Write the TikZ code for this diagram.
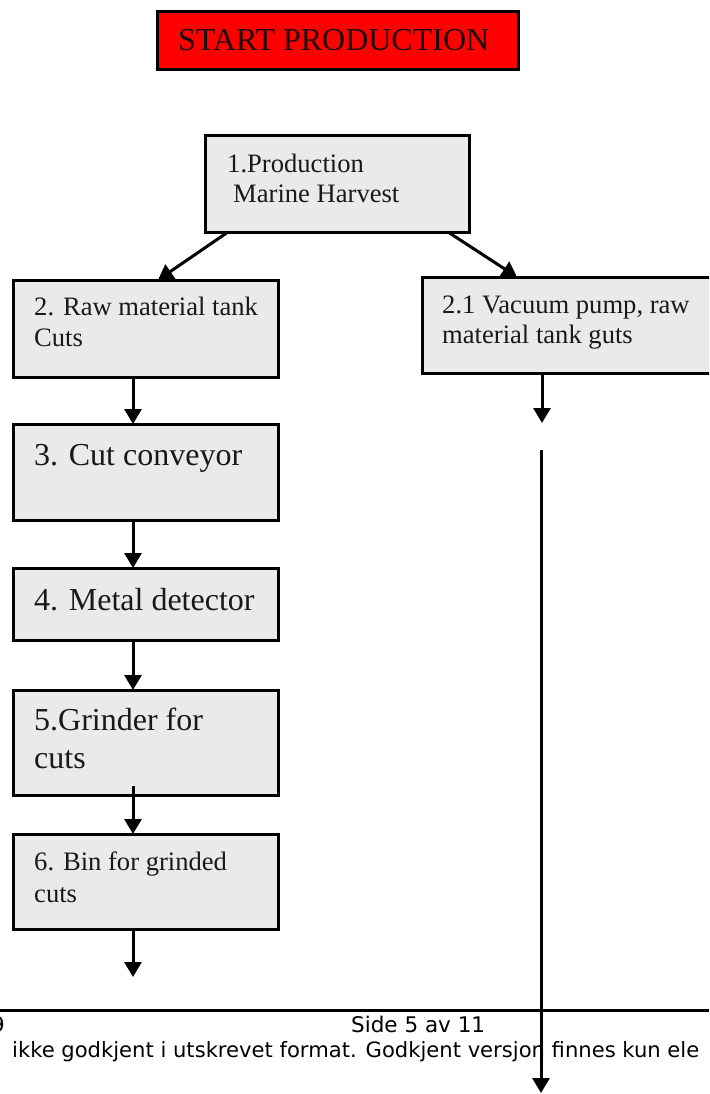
\documentclass[tikz,border=0pt]{standalone}
\usepackage{fontspec}
\setmainfont{Liberation Serif}
\newfontfamily\footfont{DejaVu Sans}
\usetikzlibrary{arrows.meta}
\definecolor{boxgray}{RGB}{234,234,234}
\definecolor{startred}{RGB}{255,0,0}
\definecolor{darktext}{RGB}{30,10,10}
\tikzset{
  procbox/.style={draw=black, line width=3pt, fill=boxgray, rectangle, anchor=north west, inner sep=0pt, outer sep=0pt},
  startbox/.style={draw=black, line width=3pt, fill=startred, rectangle, anchor=north west, inner sep=0pt, outer sep=0pt},
  smalltxt/.style={anchor=base west, inner sep=0pt, align=left, font=\fontsize{26.6}{31}\selectfont, text=black!90},
  bigtxt/.style={anchor=base west, inner sep=0pt, align=left, font=\fontsize{32}{38}\selectfont, text=black!90},
  foottxt/.style={anchor=base west, inner sep=0pt, font=\footfont\fontsize{21.5}{25}\selectfont},
  flow/.style={line width=3pt, -{Triangle[width=17pt,length=15pt]}}
}
\begin{document}
\begin{tikzpicture}[x=1pt,y=-1pt]
\useasboundingbox (0,0) rectangle (709,1094);
\clip (0,0) rectangle (709,1094);
\fill[white] (0,0) rectangle (709,1094);

% start
\node[startbox, minimum width=361pt, minimum height=58pt] (start) at (157,12) {};
\node[anchor=base west, inner sep=0pt, font=\fontsize{32}{38}\selectfont, text=darktext] (starttxt) at (178,51) {START PRODUCTION};

% boxes (multi-line text nodes are anchored at the baseline of their last line)
\node[procbox, minimum width=264pt, minimum height=96pt] (b1) at (205,136) {};
\node[smalltxt] (t1) at (227,202) {1.Production\\[-1pt]\hspace*{6pt}Marine Harvest};

\node[procbox, minimum width=265pt, minimum height=97pt] (b2) at (13,280) {};
\node[smalltxt] (t2) at (34,346) {2. Raw material tank\\Cuts};

\node[procbox, minimum width=320pt, minimum height=96pt] (b21) at (422,277) {};
\node[smalltxt] (t21) at (442,343) {2.1 Vacuum pump, raw\\[-1pt]material tank guts};

\node[procbox, minimum width=265pt, minimum height=96pt] (b3) at (13,424) {};
\node[bigtxt] (t3) at (34,465) {3. Cut conveyor};

\node[procbox, minimum width=265pt, minimum height=72pt] (b4) at (13,568) {};
\node[bigtxt] (t4) at (34,610) {4. Metal detector};

\node[procbox, minimum width=265pt, minimum height=105pt] (b5) at (13,690) {};
\node[bigtxt] (t5) at (34,768) {5.Grinder for\\cuts};

\node[procbox, minimum width=265pt, minimum height=95pt] (b6) at (13,834) {};
\node[smalltxt] (t6) at (34,902) {6. Bin for grinded\\[1pt]cuts};

% connectors
\draw[flow] ([xshift=23pt]b1.south west) -- ([xshift=145pt]b2.north west);
\draw[flow] ([xshift=243pt]b1.south west) -- ([xshift=95pt]b21.north west);
\draw[flow] ([xshift=120pt]b2.south west) -- ([xshift=120pt]b3.north west);
\draw[flow] ([xshift=120pt]b3.south west) -- ([xshift=120pt]b4.north west);
\draw[flow] ([xshift=120pt]b4.south west) -- ([xshift=120pt]b5.north west);
\coordinate (c5) at (133,786);
\draw[flow] (c5) -- ([xshift=120pt]b6.north west);
\coordinate (out6) at (133,977);
\draw[flow] ([xshift=120pt]b6.south west) -- (out6);
\coordinate (out21) at (542,423);
\draw[flow] ([xshift=120pt,yshift=-2pt]b21.south west) -- (out21);
\coordinate (longtop) at (541,450);
\coordinate (longend) at (541,1093);
\draw[flow] (longtop) -- (longend);

% footer
\draw[line width=3pt] (0,1010) -- (709,1010);
\node[foottxt, anchor=base east] (pg) at (5,1032) {9};
\node[foottxt] (side) at (351,1032) {Side 5 av 11};
\node[foottxt, font=\footfont\fontsize{21.1}{25}\selectfont] (note) at (12,1057) {ikke godkjent i utskrevet format. Godkjent versjon finnes kun ele};
\end{tikzpicture}
\end{document}
